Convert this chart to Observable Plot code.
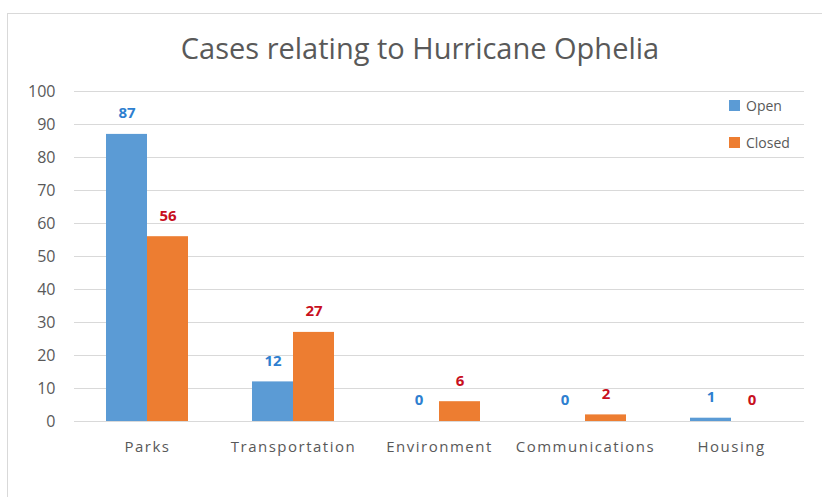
<!DOCTYPE html>
<html>
<head>
<meta charset="utf-8">
<script src="https://cdn.jsdelivr.net/npm/d3@7"></script>
<script src="https://cdn.jsdelivr.net/npm/@observablehq/plot@0.6"></script>
<style>
  html, body { margin: 0; padding: 0; background: #fff; }
  body { width: 822px; height: 497px; overflow: hidden; position: relative; font-family: "Open Sans", sans-serif; }
  #frame { position: absolute; left: 7px; top: 13px; width: 840px; height: 520px; border: 1px solid #d9d9d9; box-sizing: border-box; pointer-events: none; }
  #title { height: 80px; line-height: 1; padding-top: 33px; box-sizing: border-box; text-align: center; font-size: 29px; color: #595959; padding-left: 18px; }
  #legend { position: absolute; left: 729px; top: 96px; font-size: 14px; color: #595959; }
  #legend .item { display: flex; align-items: center; height: 18px; margin-bottom: 19px; }
  #legend .sw { width: 11px; height: 11px; margin-right: 6px; }
  #chart [aria-label="fx-axis tick label"] text { letter-spacing: 1.5px; }
</style>
</head>
<body>
<div id="frame"></div>
<div id="title">Cases relating to Hurricane Ophelia</div>
<div id="chart"></div>
<div id="legend"></div>
<script>
const categories = ["Parks", "Transportation", "Environment", "Communications", "Housing"];
const series = ["Open", "Closed"];
const openValues = [87, 12, 0, 0, 1];
const closedValues = [56, 27, 6, 2, 0];
const yTicks = [0, 10, 20, 30, 40, 50, 60, 70, 80, 90, 100];
const barColors = ["#5B9BD5", "#ED7D31"];
const labelColors = ["#2E7FD0", "#C8101E"];

const data = [];
categories.forEach((c, i) => {
  data.push({category: c, series: "Open", value: openValues[i]});
  data.push({category: c, series: "Closed", value: closedValues[i]});
});

const chart = Plot.plot({
  width: 822,
  height: 417,
  marginTop: 11,
  marginBottom: 76,
  marginLeft: 73,
  marginRight: 17,
  style: {fontFamily: "Open Sans, sans-serif", color: "#595959", background: "transparent"},
  fx: {domain: categories, padding: 0, label: null},
  x: {domain: series, paddingInner: 0, paddingOuter: 0.76, axis: null},
  y: {domain: [0, 100], label: null},
  color: {domain: series, range: barColors},
  marks: [
    Plot.gridY(yTicks, {stroke: "#d9d9d9", strokeOpacity: 1}),
    Plot.axisY({ticks: yTicks, tickSize: 0, tickPadding: 19, fontSize: 16, label: null}),
    Plot.axisFx({anchor: "bottom", tickSize: 0, tickPadding: 20, fontSize: 15, label: null}),
    Plot.barY(data, {fx: "category", x: "series", y: "value", fill: "series"}),
    Plot.text(data, {filter: d => d.series === "Open", fx: "category", x: "series", y: "value", text: d => String(d.value), dy: -21, fill: labelColors[0], fontWeight: "bold", fontSize: 15}),
    Plot.text(data, {filter: d => d.series === "Closed", fx: "category", x: "series", y: "value", text: d => String(d.value), dy: -21, fill: labelColors[1], fontWeight: "bold", fontSize: 15})
  ]
});
document.getElementById("chart").appendChild(chart);

const legend = document.getElementById("legend");
series.forEach((s, i) => {
  const item = document.createElement("div");
  item.className = "item";
  const sw = document.createElement("div");
  sw.className = "sw";
  sw.style.background = barColors[i];
  const label = document.createElement("span");
  label.textContent = s;
  item.appendChild(sw);
  item.appendChild(label);
  legend.appendChild(item);
});
</script>
</body>
</html>
